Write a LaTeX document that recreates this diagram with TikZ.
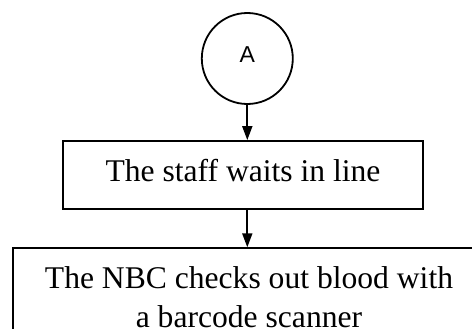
\documentclass[tikz,border=0pt]{standalone}
\usepackage{fontspec}
\setmainfont{Liberation Serif}
\newfontfamily\arialfont{Liberation Sans}
\usetikzlibrary{arrows.meta}

\tikzset{
  flowline/.style={line width=1.8pt, draw=black},
  flowarrow/.style={flowline, -{Triangle[length=14pt,width=10pt]}},
  connector/.style={circle, flowline, minimum size=91pt, inner sep=0pt,
    font=\arialfont\fontsize{23}{27}\selectfont, text depth=7pt},
  stepbox/.style={rectangle, flowline, align=center,
    font=\fontsize{31.6}{39.2}\selectfont},
}

\begin{document}
\begin{tikzpicture}[x=1pt,y=-1pt]
  \useasboundingbox (0,0) rectangle (472,329);
  \clip (0,0) rectangle (472,329);

  % off-page connector
  \node[connector] (conA) at (247.3,58.5) {A};

  % process steps
  \node[stepbox, minimum width=360pt, minimum height=68pt, text depth=10pt]
    (wait) at (243,175) {The staff waits in line};
  \node[stepbox, anchor=north, minimum width=472pt, inner xsep=0pt, inner ysep=18.4pt]
    (scan) at (249,247.3) {The NBC checks out blood with\\a barcode scanner};

  % flow
  \draw[flowarrow] (conA.south) -- (conA.south |- wait.north);
  \draw[flowarrow] (wait.south -| conA.south) -- (scan.north -| conA.south);
\end{tikzpicture}
\end{document}
